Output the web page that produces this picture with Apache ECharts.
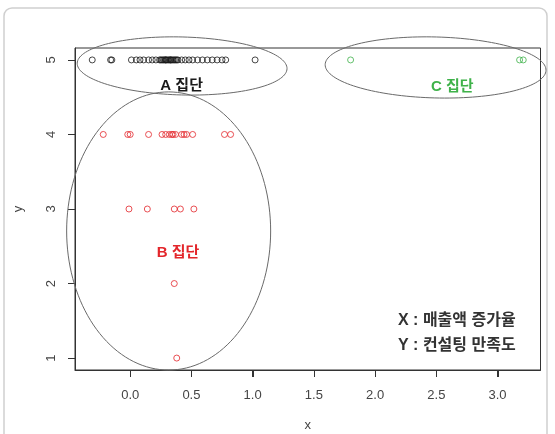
<!DOCTYPE html>
<html><head><meta charset="utf-8">
<script src="https://cdn.jsdelivr.net/npm/echarts@6/dist/echarts.min.js"></script>
<style>html,body{margin:0;padding:0;background:#fff}#c{width:555px;height:434px}</style>
</head><body><div id="c"></div>
<script>
// Group A (y = 5)
const groupA_x = [-0.31, -0.16, -0.15, 0.01, 0.05, 0.08, 0.11, 0.15, 0.18, 0.21, 0.24, 0.25, 0.26, 0.27, 0.28, 0.29, 0.29, 0.30, 0.31, 0.32, 0.33, 0.33, 0.34, 0.35, 0.36, 0.37, 0.38, 0.39, 0.42, 0.45, 0.48, 0.51, 0.55, 0.59, 0.63, 0.67, 0.71, 0.75, 0.78, 1.02];
const groupA_y = [5,5,5,5,5,5,5,5,5,5,5,5,5,5,5,5,5,5,5,5,5,5,5,5,5,5,5,5,5,5,5,5,5,5,5,5,5,5,5,5];
// Group B
const groupB_x = [-0.22, -0.02, 0.00, 0.15, 0.26, 0.29, 0.32, 0.34, 0.35, 0.37, 0.42, 0.44, 0.46, 0.51, 0.77, 0.82,
                  -0.01, 0.14, 0.36, 0.41, 0.52,
                  0.36,
                  0.38];
const groupB_y = [4,4,4,4,4,4,4,4,4,4,4,4,4,4,4,4,
                  3,3,3,3,3,
                  2,
                  1];
// Group C (y = 5)
const groupC_x = [1.80, 3.18, 3.21];
const groupC_y = [5, 5, 5];

const xTicks = [0, 0.5, 1.0, 1.5, 2.0, 2.5, 3.0];
const yTicks = [1, 2, 3, 4, 5];

// Group ellipses: [centerX, centerY, radiusX, radiusY, tilt(deg)] in data units
const groupEllipses = [
  [0.424, 4.919, 0.857, 0.389, 1.5],
  [0.314, 2.705, 0.833, 1.866, 0],
  [2.494, 4.899, 0.902, 0.409, 1.5]
];
const groupNames = ['A 집단', 'B 집단', 'C 집단'];
const groupLabelPos = [[0.42, 4.65], [0.39, 2.41], [2.63, 4.64]];
const noteLines = ['X : 매출액 증가율', 'Y : 컨설팅 만족도'];

const colors = ['#1a1a1a', '#e3262b', '#3fb24a'];

function pairs(xs, ys) { return xs.map((x, i) => [x, ys[i]]); }

const allX = groupA_x.concat(groupB_x, groupC_x);
const allY = groupA_y.concat(groupB_y, groupC_y);
const xmin0 = Math.min(...allX), xmax0 = Math.max(...allX);
const ymin0 = Math.min(...allY), ymax0 = Math.max(...allY);
const xpad = (xmax0 - xmin0) * 0.04, ypad = (ymax0 - ymin0) * 0.04;
const yLow = ymin0 - ypad;

const FONT = '"Liberation Sans", "Noto Sans CJK KR", sans-serif';

const chart = echarts.init(document.getElementById('c'));
const scatterStyle = c => ({ color: 'rgba(0,0,0,0)', borderColor: c, borderWidth: 1 });

chart.setOption({
  animation: false,
  backgroundColor: '#fff',
  grid: { left: 75, right: 14.5, top: 48, bottom: 64, show: true, borderColor: '#333', borderWidth: 1, backgroundColor: 'transparent', containLabel: false, outerBoundsMode: 'none' },
  xAxis: {
    type: 'value', min: xmin0 - xpad, max: xmax0 + xpad, position: 'bottom',
    name: 'x', nameLocation: 'middle', nameGap: 49,
    nameTextStyle: { fontFamily: FONT, fontSize: 13, color: '#444' },
    axisLine: { show: true, onZero: false, lineStyle: { color: '#333', width: 1 } },
    splitLine: { show: false },
    axisTick: { show: true, inside: false, length: 7, customValues: xTicks, lineStyle: { color: '#333', width: 1 } },
    axisLabel: { customValues: xTicks, margin: 19, fontFamily: FONT, fontSize: 13, color: '#444', formatter: v => v.toFixed(1) }
  },
  yAxis: {
    type: 'value', min: yLow, max: ymax0 + ypad, position: 'left',
    name: 'y', nameLocation: 'middle', nameGap: 50, nameRotate: 90,
    nameTextStyle: { fontFamily: FONT, fontSize: 13, color: '#444' },
    axisLine: { show: true, onZero: false, lineStyle: { color: '#333', width: 1 } },
    splitLine: { show: false },
    axisTick: { show: true, inside: false, length: 7, customValues: yTicks, lineStyle: { color: '#333', width: 1 } },
    axisLabel: { customValues: yTicks, margin: 17, rotate: 90, fontFamily: FONT, fontSize: 13, color: '#444', formatter: v => String(v) }
  },
  graphic: [
    { id: 'frame', type: 'rect', silent: true, z: -10, shape: { x: 4, y: 8, width: 543, height: 445, r: 8 }, style: { fill: 'none', stroke: '#cfcfcf', lineWidth: 1.5 } },
    { id: 'note0', type: 'text', left: 398, top: 313, style: { text: noteLines[0], font: 'bold 16px ' + FONT, fill: '#333' } },
    { id: 'note1', type: 'text', left: 398, top: 338, style: { text: noteLines[1], font: 'bold 16px ' + FONT, fill: '#333' } }
  ],
  series: [
    { type: 'scatter', symbol: 'circle', symbolSize: 6, data: pairs(groupA_x, groupA_y), itemStyle: scatterStyle(colors[0]), silent: true },
    { type: 'scatter', symbol: 'circle', symbolSize: 6, data: pairs(groupB_x, groupB_y), itemStyle: scatterStyle(colors[1]), silent: true },
    { type: 'scatter', symbol: 'circle', symbolSize: 6, data: pairs(groupC_x, groupC_y), itemStyle: scatterStyle(colors[2]), silent: true },
    {
      type: 'custom', silent: true, clip: false, data: groupEllipses,
      encode: { x: 0, y: 1 },
      renderItem: function (params, api) {
        const c = api.coord([api.value(0), api.value(1)]);
        const s = api.size([api.value(2), api.value(3)]);
        const rot = api.value(4) * Math.PI / 180;
        const pts = [];
        for (let i = 0; i <= 144; i++) {
          const t = i / 144 * Math.PI * 2;
          const ex = s[0] * Math.cos(t), ey = s[1] * Math.sin(t);
          pts.push([c[0] + ex * Math.cos(rot) - ey * Math.sin(rot), c[1] + ex * Math.sin(rot) + ey * Math.cos(rot)]);
        }
        return { type: 'polygon', shape: { points: pts }, style: { fill: 'none', stroke: '#6a6a6a', lineWidth: 1 } };
      }
    },
    {
      type: 'custom', silent: true, clip: false, data: groupLabelPos,
      encode: { x: 0, y: 1 },
      renderItem: function (params, api) {
        const p = api.coord([api.value(0), api.value(1)]);
        return { type: 'text', x: p[0], y: p[1], style: { text: groupNames[params.dataIndex], fill: colors[params.dataIndex], font: 'bold 15px ' + FONT, align: 'center', verticalAlign: 'middle' } };
      }
    }
  ]
});

// extra x-axis tick marks, positioned through the library's x scale (appended, ids keep existing graphics)
const yBase = chart.convertToPixel({ yAxisIndex: 0 }, yLow);
const tickEls = xTicks.map((v, i) => {
  const px = Math.round(chart.convertToPixel({ xAxisIndex: 0 }, v)) + 0.5;
  return { id: 'xt' + i, type: 'rect', silent: true, z: 100, shape: { x: px - 0.5, y: yBase, width: 1, height: 7 }, style: { fill: '#333' } };
});
chart.setOption({ graphic: tickEls });
</script>
</body></html>
